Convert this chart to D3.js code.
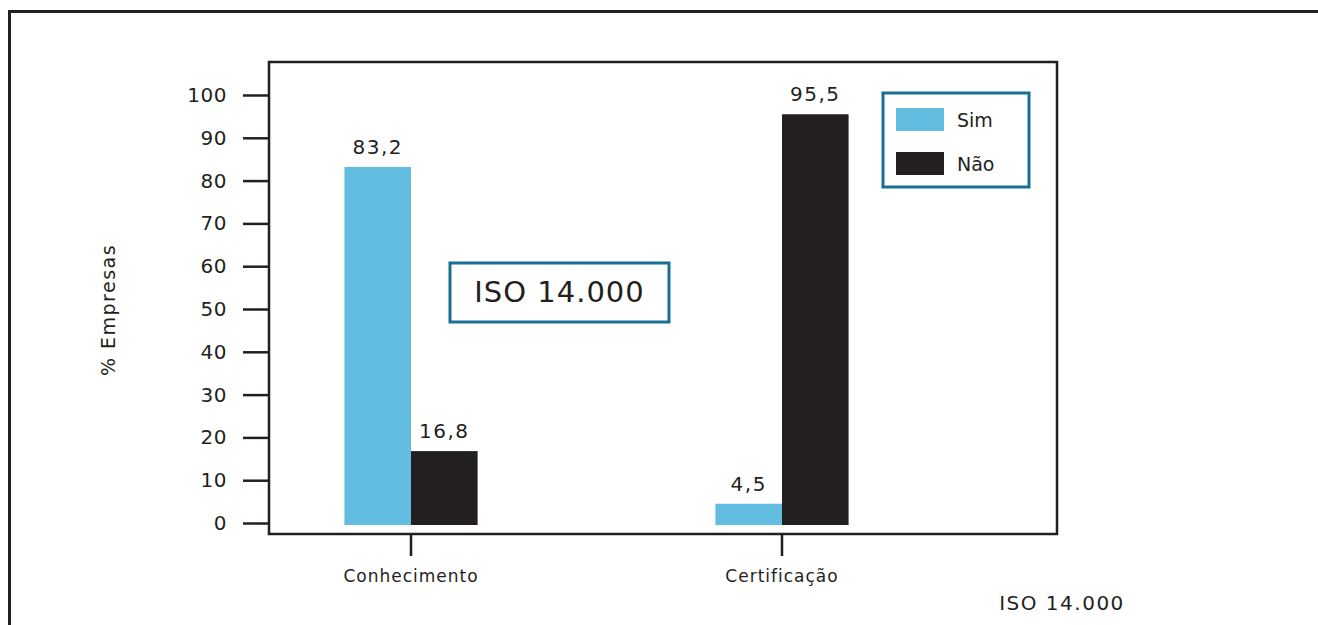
<!DOCTYPE html>
<html>
<head>
<meta charset="utf-8">
<script src="https://cdn.jsdelivr.net/npm/d3@7"></script>
<style>
  html, body { margin: 0; padding: 0; background: #fff; }
  svg { display: block; }
  text { font-family: "DejaVu Sans", "Liberation Sans", sans-serif; fill: #231f20; }
</style>
</head>
<body>
<svg id="chart" width="1318" height="625"></svg>
<script>
// Awareness and certification of ISO 14.000 among companies (%)
const categories = ["Conhecimento", "Certificação"];
const seriesNames = ["Sim", "Não"];
const simValues = [83.2, 4.5];
const naoValues = [16.8, 95.5];
const yTicks = [0, 10, 20, 30, 40, 50, 60, 70, 80, 90, 100];

const colors = { "Sim": "#63bde0", "Não": "#231f20" };
const ink = "#231f20";
const teal = "#186f93";

const svg = d3.select("#chart");

// outer frame (top and left edges only)
svg.append("path")
  .attr("d", "M9.5,625 V11.5 H1318")
  .attr("fill", "none")
  .attr("stroke", ink)
  .attr("stroke-width", 3);

// plot area
const plot = { left: 269, right: 1057, top: 62, bottom: 534 };

const y = d3.scaleLinear().domain([0, 100]).range([523, 95]);

const x = d3.scaleBand()
  .domain(categories)
  .range([225.5, 967.5])
  .paddingInner(0.641)
  .paddingOuter(0.3205);

const xSub = d3.scaleBand()
  .domain(seriesNames)
  .range([0, x.bandwidth()]);

const rows = categories.map((c, i) => ({
  category: c,
  values: [
    { key: "Sim", value: simValues[i] },
    { key: "Não", value: naoValues[i] }
  ]
}));

// bars
const groups = svg.append("g").selectAll("g")
  .data(rows)
  .join("g")
  .attr("transform", d => `translate(${x(d.category)},0)`);

groups.selectAll("rect")
  .data(d => d.values)
  .join("rect")
  .attr("x", d => xSub(d.key))
  .attr("width", xSub.bandwidth())
  .attr("y", d => y(d.value))
  .attr("height", d => y.range()[0] + 2 - y(d.value))
  .attr("fill", d => colors[d.key]);

groups.selectAll("text.val")
  .data(d => d.values)
  .join("text")
  .attr("class", "val")
  .attr("x", d => xSub(d.key) + xSub.bandwidth() / 2)
  .attr("y", d => y(d.value) - 13)
  .attr("text-anchor", "middle")
  .attr("font-size", 20)
  .attr("letter-spacing", 1.5)
  .text(d => d3.format(".1f")(d.value).replace(".", ","));

// plot frame
svg.append("rect")
  .attr("x", plot.left)
  .attr("y", plot.top)
  .attr("width", plot.right - plot.left)
  .attr("height", plot.bottom - plot.top)
  .attr("fill", "none")
  .attr("stroke", ink)
  .attr("stroke-width", 2.5);

// y axis ticks
const yAxis = d3.axisLeft(y)
  .tickValues(yTicks)
  .tickSize(26)
  .tickPadding(16)
  .tickFormat(d3.format("d"));

const gy = svg.append("g")
  .attr("transform", `translate(${plot.left},0)`)
  .call(yAxis);
gy.select(".domain").remove();
gy.selectAll(".tick line").attr("stroke", ink).attr("stroke-width", 2.5);
gy.selectAll(".tick text")
  .attr("font-size", 20)
  .attr("letter-spacing", 0.5)
  .attr("font-family", "DejaVu Sans, sans-serif")
  .attr("fill", ink);

// x axis ticks
const xAxis = d3.axisBottom(x)
  .tickSize(22)
  .tickPadding(14);
const gx = svg.append("g")
  .attr("transform", `translate(0,${plot.bottom})`)
  .call(xAxis);
gx.select(".domain").remove();
gx.selectAll(".tick line").attr("stroke", ink).attr("stroke-width", 2.5);
gx.selectAll(".tick text")
  .attr("font-size", 17)
  .attr("letter-spacing", 1)
  .attr("font-family", "DejaVu Sans, sans-serif")
  .attr("fill", ink);

// y axis title
svg.append("text")
  .attr("transform", "translate(115,310) rotate(-90)")
  .attr("text-anchor", "middle")
  .attr("font-size", 19)
  .attr("letter-spacing", 1.5)
  .text("% Empresas");

// bottom-right caption
svg.append("text")
  .attr("x", 1062)
  .attr("y", 610)
  .attr("text-anchor", "middle")
  .attr("font-size", 20)
  .attr("letter-spacing", 1.5)
  .text("ISO 14.000");

// centred title box
svg.append("rect")
  .attr("x", 450).attr("y", 263)
  .attr("width", 219).attr("height", 59)
  .attr("fill", "#fff")
  .attr("stroke", teal)
  .attr("stroke-width", 3);
svg.append("text")
  .attr("x", 559.5).attr("y", 302)
  .attr("text-anchor", "middle")
  .attr("font-size", 29)
  .attr("letter-spacing", 1)
  .text("ISO 14.000");

// legend
const legend = svg.append("g");
legend.append("rect")
  .attr("x", 883).attr("y", 93)
  .attr("width", 146).attr("height", 94)
  .attr("fill", "#fff")
  .attr("stroke", teal)
  .attr("stroke-width", 3);
const items = legend.selectAll("g.item")
  .data(seriesNames)
  .join("g")
  .attr("class", "item")
  .attr("transform", (d, i) => `translate(896,${108 + i * 44})`);
items.append("rect")
  .attr("width", 48).attr("height", 23)
  .attr("fill", d => colors[d]);
items.append("text")
  .attr("x", 61).attr("y", 19)
  .attr("font-size", 19)
  .text(d => d);
</script>
</body>
</html>
